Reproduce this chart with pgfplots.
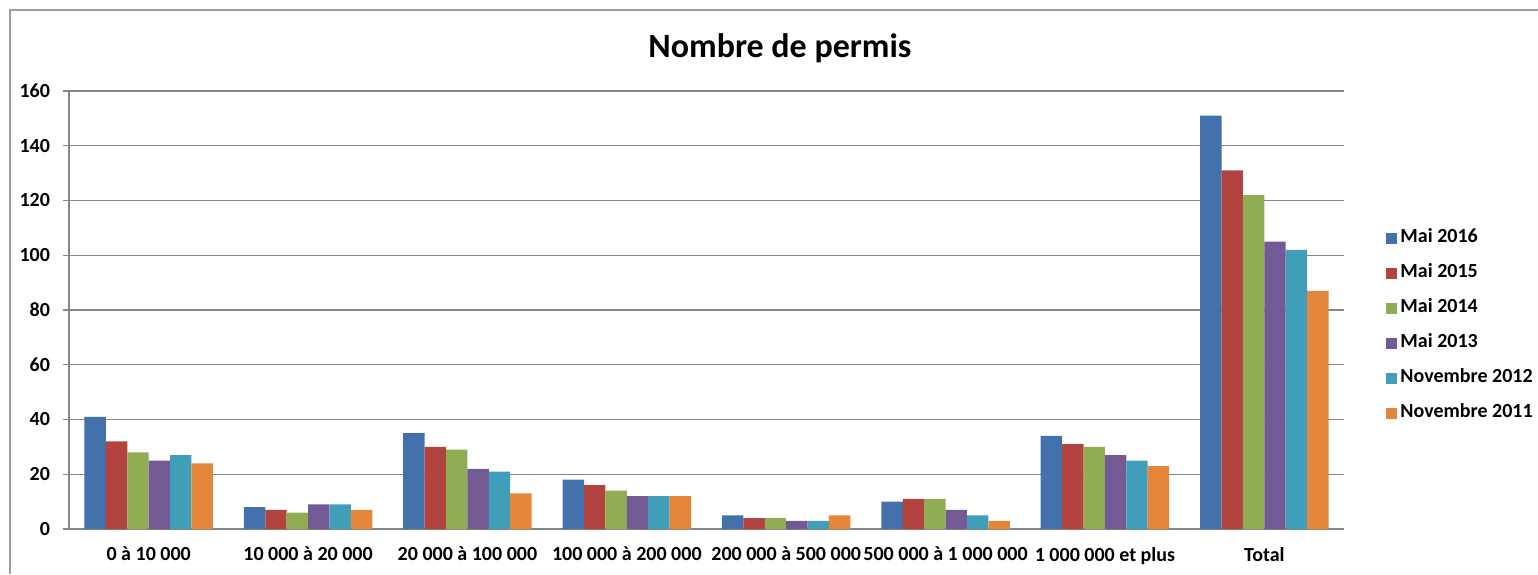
\documentclass[border=0pt]{standalone}
\usepackage{fontspec}
\setmainfont{Carlito}
\usepackage{pgfplots}
\pgfplotsset{compat=1.18}
\definecolor{cA}{HTML}{4371AB}
\definecolor{cB}{HTML}{B3433F}
\definecolor{cC}{HTML}{91AD53}
\definecolor{cD}{HTML}{735A95}
\definecolor{cE}{HTML}{409EB8}
\definecolor{cF}{HTML}{E4863C}
\definecolor{axgray}{HTML}{868686}
\begin{document}
\begin{tikzpicture}
\path[use as bounding box] (-34.5pt,-22.5pt) rectangle (734.5pt,264.5pt);
\draw[color=axgray!80, line width=0.8pt] (-29.5pt,-22.5pt) -- (-29.5pt,259.5pt) -- (734.5pt,259.5pt);
\node[font=\fontsize{17}{20}\selectfont\bfseries] at (355.5pt,240.5pt) {Nombre de permis};
\begin{axis}[
  at={(0pt,0pt)}, anchor=south west,
  scale only axis, width=637.5pt, height=219pt,
  ybar=0pt, bar width=10.7pt,
  xmin=-0.5, xmax=7.5, ymin=0, ymax=160,
  ytick={0,20,...,160},
  xtick={0,1,2,3,4,5,6,7},
  xticklabels={0 à 10 000,10 000 à 20 000,20 000 à 100 000,100 000 à 200 000,200 000 à 500 000,500 000 à 1 000 000,1 000 000 et plus,Total},
  major x tick style={draw=none},
  extra x ticks={-0.5,0.5,...,7.5},
  extra x tick labels={},
  extra x tick style={major tick length=3pt, tick style={draw=axgray}, grid=none},
  ymajorgrids, grid style={axgray, line width=0.6pt},
  axis x line*=bottom, axis y line*=left,
  axis line style={axgray, line width=0.6pt, -},
  tick style={axgray, line width=0.6pt},
  tick align=outside, major tick length=3pt,
  tick label style={font=\fontsize{10}{12}\selectfont\bfseries, text=black},
  /pgf/number format/assume math mode=true,
  yticklabel style={anchor=east, xshift=-3pt},
  xticklabel style={anchor=north, yshift=-2.5pt},
  legend style={draw=none, fill=none, at={(1.033,0.464)}, anchor=west, inner sep=0pt,
     font=\fontsize{10}{12}\selectfont\bfseries, row sep=9pt, column sep=1.5pt,
     nodes={inner sep=0pt, text height=6.5pt, text depth=2pt}},
  legend cell align=left,
  legend image code/.code={\fill[#1] (0pt,-2.75pt) rectangle (5.5pt,2.75pt);},
]
\addplot[fill=cA, draw=none] coordinates {(0,41) (1,8) (2,35) (3,18) (4,5) (5,10) (6,34) (7,151)};
\addplot[fill=cB, draw=none] coordinates {(0,32) (1,7) (2,30) (3,16) (4,4) (5,11) (6,31) (7,131)};
\addplot[fill=cC, draw=none] coordinates {(0,28) (1,6) (2,29) (3,14) (4,4) (5,11) (6,30) (7,122)};
\addplot[fill=cD, draw=none] coordinates {(0,25) (1,9) (2,22) (3,12) (4,3) (5,7) (6,27) (7,105)};
\addplot[fill=cE, draw=none] coordinates {(0,27) (1,9) (2,21) (3,12) (4,3) (5,5) (6,25) (7,102)};
\addplot[fill=cF, draw=none] coordinates {(0,24) (1,7) (2,13) (3,12) (4,5) (5,3) (6,23) (7,87)};
\legend{Mai 2016,Mai 2015,Mai 2014,Mai 2013,Novembre 2012,Novembre 2011}
\end{axis}
\end{tikzpicture}
\end{document}
